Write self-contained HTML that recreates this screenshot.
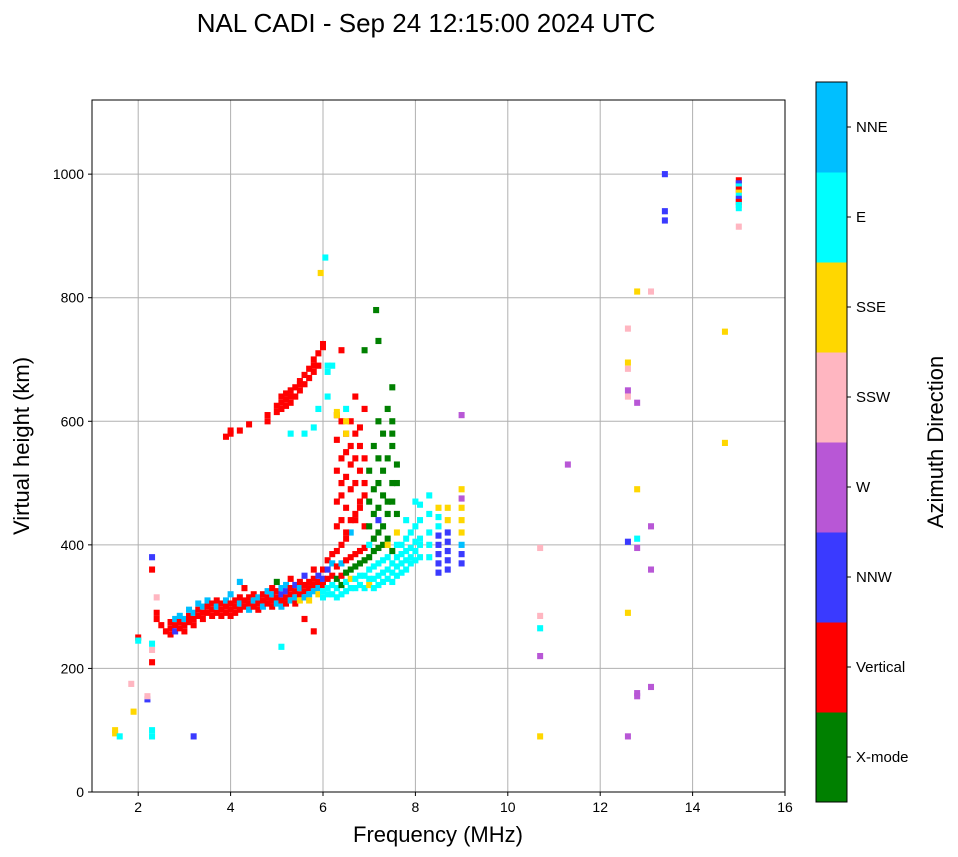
<!DOCTYPE html>
<html><head><meta charset="utf-8"><style>
body{margin:0;background:#fff;width:958px;height:857px;overflow:hidden;font-family:"Liberation Sans",sans-serif}
svg{display:block}
</style></head><body>
<svg id="chart" width="958" height="857" xmlns="http://www.w3.org/2000/svg">
<text x="426" y="32" font-size="26" text-anchor="middle">NAL CADI - Sep 24 12:15:00 2024 UTC</text>
<g id="grid"></g>
<g id="marks"></g>
<rect x="92" y="100" width="693" height="692" fill="none" stroke="#000" stroke-width="1"/>
<g id="axes"></g>
<text x="438" y="842" font-size="22" text-anchor="middle">Frequency (MHz)</text>
<text x="0" y="0" font-size="22" text-anchor="middle" transform="translate(29,446) rotate(-90)">Virtual height (km)</text>
<g id="cbar"></g>
<text x="0" y="0" font-size="22" text-anchor="middle" transform="translate(943,442) rotate(-90)">Azimuth Direction</text>
</svg>
<script>
const xTicks=[2,4,6,8,10,12,14,16];
const yTicks=[0,200,400,600,800,1000];
const directions=["X-mode","Vertical","NNW","W","SSW","SSE","E","NNE"];
const dirColors=["#008000","#ff0000","#3a3aff","#b857d6","#ffb6c1","#ffd700","#00ffff","#00bfff"];
// [frequency MHz, height km, direction index]
const echoes=[
[2.7,265,1],[2.7,275,1],[2.7,255,1],[2.8,270,1],[2.8,260,2],[2.8,280,7],[2.9,265,1],[2.9,275,1],[2.9,285,7],
[3.0,270,1],[3.0,280,7],[3.0,260,1],[3.1,275,1],[3.1,285,1],[3.1,295,7],[3.2,280,1],[3.2,290,7],[3.2,270,1],
[3.3,285,1],[3.3,295,1],[3.3,305,7],[3.4,280,1],[3.4,300,7],[3.4,290,1],[3.5,290,1],[3.5,300,1],[3.5,310,7],
[3.6,285,1],[3.6,295,1],[3.6,305,1],[3.7,290,1],[3.7,300,7],[3.7,310,1],[3.8,295,1],[3.8,305,1],[3.8,285,1],
[3.9,300,1],[3.9,310,7],[3.9,290,1],[4.0,295,1],[4.0,305,1],[4.0,320,7],[4.0,285,1],[4.1,300,1],[4.1,310,1],[4.1,290,1],
[4.2,305,7],[4.2,295,1],[4.2,315,1],[4.2,340,7],[4.3,300,1],[4.3,310,1],[4.3,330,1],[4.4,305,1],[4.4,295,7],[4.4,315,1],
[4.5,300,1],[4.5,310,7],[4.5,320,1],[4.6,305,1],[4.6,295,1],[4.6,315,7],[4.7,310,1],[4.7,300,7],[4.7,320,1],
[4.8,305,1],[4.8,315,1],[4.8,325,7],[4.9,310,1],[4.9,300,1],[4.9,320,7],[4.9,330,1],[5.0,315,1],[5.0,305,7],[5.0,325,1],[5.0,340,0],
[5.1,310,1],[5.1,320,2],[5.1,330,7],[5.1,300,7],[5.2,315,1],[5.2,325,2],[5.2,305,1],[5.2,335,7],[5.3,320,1],[5.3,310,7],[5.3,330,1],[5.3,345,1],
[5.4,315,7],[5.4,325,1],[5.4,335,2],[5.4,305,1],[5.5,320,1],[5.5,330,7],[5.5,310,5],[5.5,340,1],[5.6,325,1],[5.6,335,1],[5.6,315,7],[5.6,350,2],
[5.7,330,1],[5.7,320,7],[5.7,340,1],[5.7,310,5],[5.8,325,7],[5.8,335,1],[5.8,345,1],[5.8,360,1],[5.9,330,7],[5.9,340,1],[5.9,350,2],[5.9,320,5],
[6.0,335,1],[6.0,325,6],[6.0,345,2],[6.0,360,1],[6.0,315,6],
[6.1,320,6],[6.1,330,6],[6.1,345,1],[6.1,360,2],[6.1,375,1],[6.2,320,6],[6.2,335,6],[6.2,350,1],[6.2,370,7],[6.2,385,1],
[6.3,315,6],[6.3,330,6],[6.3,345,0],[6.3,365,1],[6.3,390,1],[6.4,320,6],[6.4,335,0],[6.4,350,1],[6.4,370,7],[6.4,400,1],
[6.5,325,6],[6.5,340,6],[6.5,355,0],[6.5,375,1],[6.5,410,1],[6.6,330,6],[6.6,345,5],[6.6,360,0],[6.6,380,1],[6.6,420,7],
[6.7,330,6],[6.7,345,6],[6.7,365,0],[6.7,385,1],[6.7,440,1],[6.8,335,6],[6.8,350,6],[6.8,370,0],[6.8,390,1],[6.8,460,1],
[6.9,330,6],[6.9,350,6],[6.9,375,0],[6.9,395,1],[6.9,480,1],[7.0,335,5],[7.0,345,6],[7.0,360,6],[7.0,380,0],[7.0,400,6],
[7.1,330,6],[7.1,345,6],[7.1,365,6],[7.1,390,0],[7.1,410,0],[7.2,335,6],[7.2,350,6],[7.2,370,6],[7.2,395,0],[7.2,420,0],
[7.3,340,6],[7.3,355,6],[7.3,375,6],[7.3,400,0],[7.3,430,0],[7.4,345,6],[7.4,360,6],[7.4,380,6],[7.4,410,0],[7.4,450,0],
[7.5,340,6],[7.5,355,6],[7.5,370,6],[7.5,390,0],[7.5,470,0],[7.6,350,6],[7.6,365,6],[7.6,380,6],[7.6,400,6],[7.6,500,0],
[7.7,355,6],[7.7,370,6],[7.7,385,6],[7.7,400,6],[7.8,360,6],[7.8,375,6],[7.8,390,6],[7.8,410,6],[7.9,370,6],[7.9,380,6],[7.9,395,6],[7.9,420,6],
[8.0,375,6],[8.0,390,6],[8.0,405,6],[8.0,430,6],[8.1,380,6],[8.1,400,6],
[6.3,430,1],[6.3,470,1],[6.3,520,1],[6.3,570,1],[6.3,610,1],[6.4,440,1],[6.4,480,1],[6.4,500,1],[6.4,540,1],[6.4,600,1],
[6.5,420,1],[6.5,460,1],[6.5,510,1],[6.5,550,1],[6.5,580,1],[6.6,440,1],[6.6,490,1],[6.6,530,1],[6.6,560,1],[6.6,600,1],
[6.7,450,1],[6.7,500,1],[6.7,540,1],[6.7,580,1],[6.7,640,1],[6.8,470,1],[6.8,520,1],[6.8,560,1],[6.8,590,1],[6.9,430,1],[6.9,500,1],[6.9,540,1],[6.9,620,1],
[7.0,430,0],[7.0,470,0],[7.0,520,0],[7.1,450,0],[7.1,490,0],[7.1,560,0],[7.2,460,0],[7.2,500,0],[7.2,540,0],[7.2,600,0],
[7.3,480,0],[7.3,520,0],[7.3,580,0],[7.4,470,0],[7.4,540,0],[7.4,620,0],[7.5,500,0],[7.5,560,0],[7.5,580,0],[7.5,600,0],[7.6,450,0],[7.6,530,0],
[7.2,440,2],[7.4,400,5],[7.6,420,5],[7.8,440,6],[8.0,470,6],
[8.5,355,2],[8.5,370,2],[8.5,385,2],[8.5,400,2],[8.5,415,2],[8.5,430,6],[8.5,445,6],[8.5,460,5],
[8.7,360,2],[8.7,375,2],[8.7,390,2],[8.7,405,2],[8.7,420,2],[8.7,440,5],[8.7,460,5],
[9.0,370,2],[9.0,385,2],[9.0,400,7],[9.0,420,5],[9.0,440,5],[9.0,460,5],[9.0,475,3],[9.0,490,5],
[8.3,380,6],[8.3,400,6],[8.3,420,6],[8.3,450,6],[8.3,480,6],[8.1,410,6],[8.1,440,6],[8.1,465,6],
[3.9,575,1],[4.0,585,1],[4.0,580,1],[4.2,585,1],[4.4,595,1],[4.8,600,1],[4.8,610,1],[5.0,615,1],[5.0,625,1],
[5.1,620,1],[5.1,630,1],[5.1,640,1],[5.2,625,1],[5.2,635,1],[5.2,645,1],[5.3,630,1],[5.3,640,1],[5.3,650,1],
[5.4,640,1],[5.4,655,1],[5.5,650,1],[5.5,665,1],[5.5,660,1],[5.6,660,1],[5.6,675,1],[5.7,670,1],[5.7,685,1],
[5.8,680,1],[5.8,690,1],[5.8,700,1],[5.9,690,1],[5.9,710,1],[6.0,720,1],[6.0,725,1],[6.4,715,1],
[6.1,690,6],[6.1,680,6],[6.1,640,6],[6.2,690,6],[6.3,610,5],[6.3,615,5],[6.5,600,5],[6.5,580,5],[6.5,620,6],[5.9,620,6],
[5.3,580,6],[5.6,580,6],[5.8,590,6],
[6.05,865,6],[5.95,840,5],[7.2,730,0],[7.15,780,0],[7.5,655,0],[6.9,715,0],[9.0,610,3],
[1.5,100,5],[1.5,95,5],[1.6,90,6],[1.9,130,5],[1.85,175,4],[2.0,250,1],[2.0,245,6],[2.2,150,2],[2.2,155,4],
[2.3,380,2],[2.3,360,1],[2.3,210,1],[2.3,230,4],[2.3,240,6],[2.4,315,4],[2.4,290,1],[2.4,280,1],[2.3,100,6],[2.3,90,6],
[3.2,90,2],[2.5,270,1],[2.6,260,1],[5.1,235,6],[5.8,260,1],[5.6,280,1],
[10.7,395,4],[10.7,285,4],[10.7,265,6],[10.7,220,3],[10.7,90,5],[11.3,530,3],
[12.6,750,4],[12.6,695,5],[12.6,685,4],[12.6,650,3],[12.6,640,4],[12.6,405,2],[12.6,290,5],[12.6,90,3],
[12.8,630,3],[12.8,810,5],[12.8,490,5],[12.8,410,6],[12.8,395,3],[13.1,810,4],[13.1,430,3],[13.1,360,3],
[12.8,160,3],[12.8,155,3],[13.1,170,3],[13.4,1000,2],[13.4,940,2],[13.4,925,2],[14.7,745,5],[14.7,565,5],
[15.0,990,1],[15.0,985,2],[15.0,980,6],[15.0,975,1],[15.0,970,5],[15.0,965,6],[15.0,960,2],[15.0,955,1],[15.0,950,6],[15.0,945,6],[15.0,915,4]
];
const NS="http://www.w3.org/2000/svg";
const X0=92,X1=785,Y0=792,Y1=100,FMIN=1,FMAX=16,HMIN=0,HMAX=1120;
function xs(f){return X0+(f-FMIN)/(FMAX-FMIN)*(X1-X0);}
function ys(h){return Y0-(h-HMIN)/(HMAX-HMIN)*(Y0-Y1);}
function mk(tag,attrs,parent){const e=document.createElementNS(NS,tag);for(const k in attrs)e.setAttribute(k,attrs[k]);parent.appendChild(e);return e;}
const grid=document.getElementById('grid'),axes=document.getElementById('axes'),marks=document.getElementById('marks'),cbar=document.getElementById('cbar');
xTicks.forEach(t=>{const x=xs(t);
 const g=mk('line',{x1:x,x2:x,y1:Y1,y2:Y0,stroke:'#b0b0b0','stroke-width':1},grid);
 
 
 mk('line',{x1:x,x2:x,y1:Y0,y2:Y0+4,stroke:'#000'},axes);
 const l=mk('text',{x:x,y:Y0+20,'font-size':14,'text-anchor':'middle'},axes);l.textContent=t;
 
 
});
yTicks.forEach(t=>{const y=ys(t);
 const g=mk('line',{x1:X0,x2:X1,y1:y,y2:y,stroke:'#b0b0b0','stroke-width':1},grid);
 
 
 mk('line',{x1:X0-4,x2:X0,y1:y,y2:y,stroke:'#000'},axes);
 const l=mk('text',{x:X0-8,y:y+5,'font-size':14,'text-anchor':'end'},axes);l.textContent=t;
 
 
});
echoes.forEach(p=>{const x=xs(p[0]-0.065),w=xs(p[0]+0.065)-x,y=ys(p[1]+5),h=ys(p[1]-5)-y;
 const r=mk('rect',{x:x,y:y,width:w,height:h,fill:dirColors[p[2]]},marks);
 
 
});
const CX=816,CW=31,CT=82,CB=802,seg=(CB-CT)/directions.length;
directions.forEach((d,i)=>{const y=CB-(i+1)*seg;
 const r=mk('rect',{x:CX,y:y,width:CW,height:seg+0.5,fill:dirColors[i]},cbar);
 
 
 mk('line',{x1:CX+CW,x2:CX+CW+4,y1:y+seg/2,y2:y+seg/2,stroke:'#000'},cbar);
 const l=mk('text',{x:CX+CW+9,y:y+seg/2+5,'font-size':15},cbar);l.textContent=d;
 
 
});
mk('rect',{x:CX,y:CT,width:CW,height:CB-CT,fill:'none',stroke:'#000'},cbar);
</script>
</body></html>
